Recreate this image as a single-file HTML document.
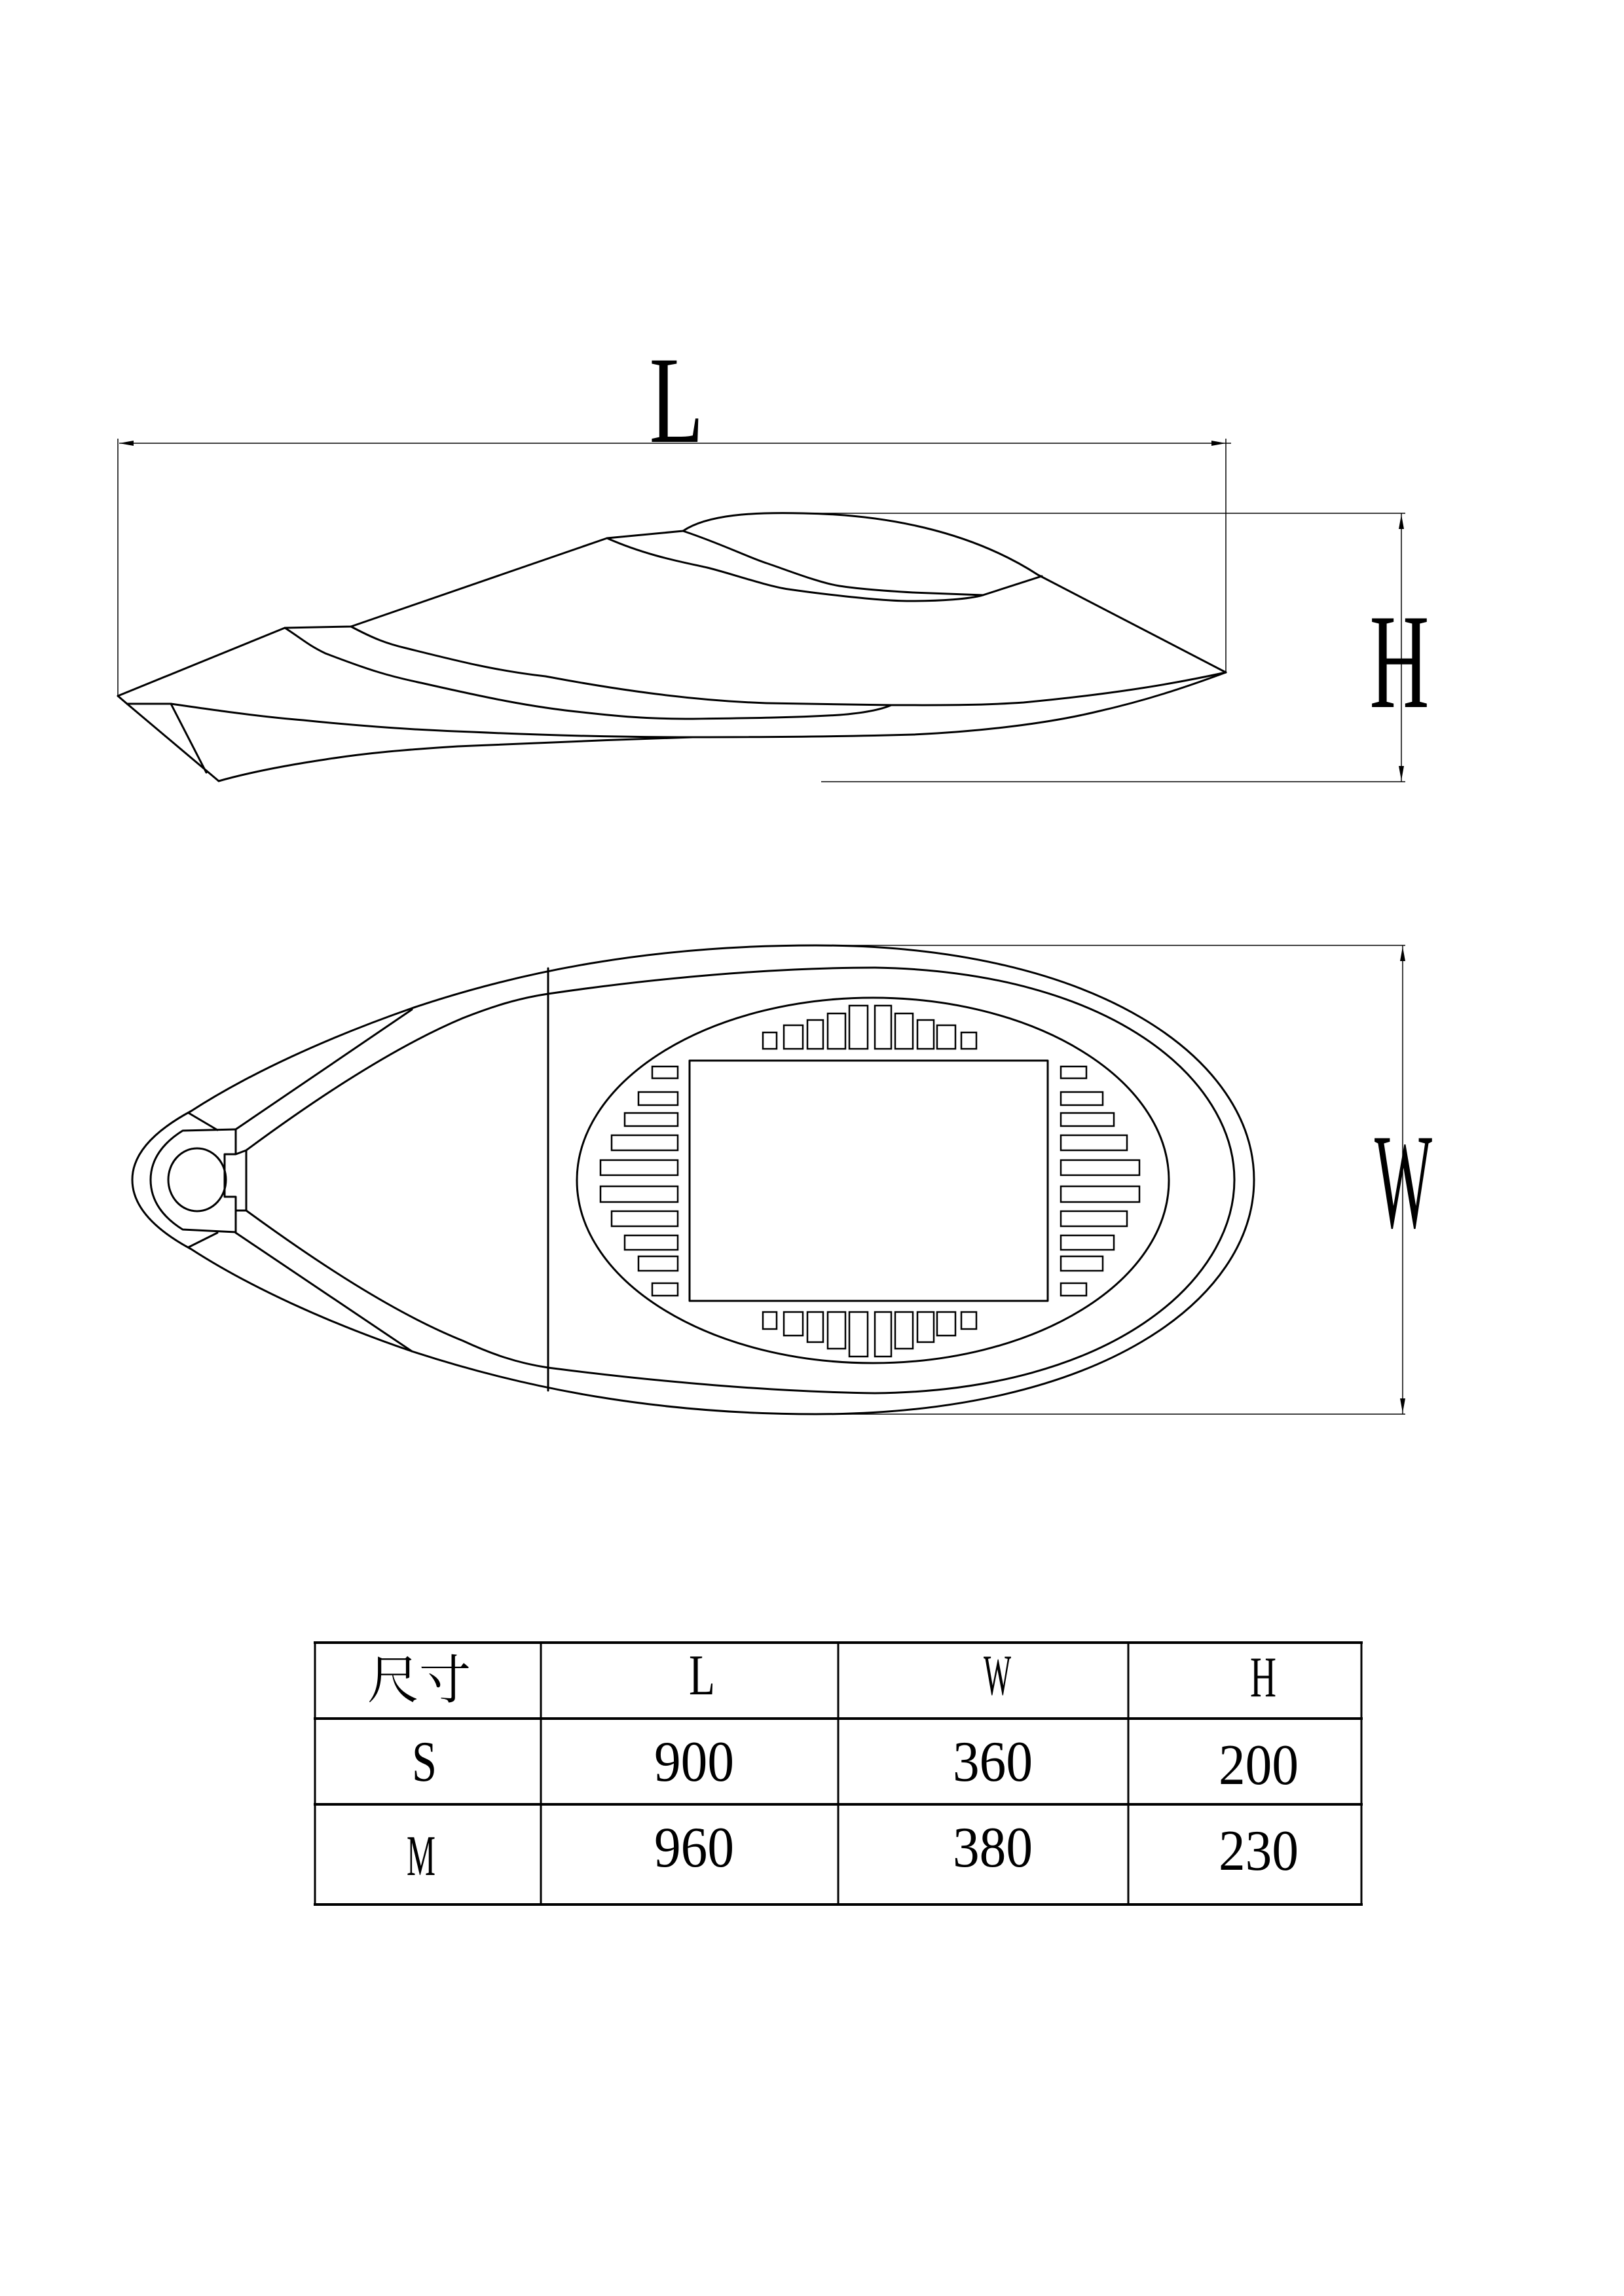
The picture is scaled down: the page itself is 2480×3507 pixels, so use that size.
<!DOCTYPE html>
<html><head><meta charset="utf-8"><style>
html,body{margin:0;padding:0;background:#fff;}
svg{display:block;}
text{font-family:"Liberation Serif","Noto Serif CJK SC",serif;fill:#000;}
</style></head><body>
<svg width="2480" height="3507" viewBox="0 0 2480 3507" xmlns="http://www.w3.org/2000/svg">
<g fill="none" stroke="#000" stroke-width="3" stroke-linejoin="round" stroke-linecap="round">
<!-- side view -->
<path d="M180,1063 L435,959 L536,957 L927,822 L1043,811 C1080,786 1150,782 1226,784 C1350,786 1480,810 1585,878 L1872,1027"/>
<path d="M927,822 C990,850 1050,860 1080,867 S1170,895 1204,900 S1340,918 1389,918 S1480,915 1501,909 L1591,880"/>
<path d="M1043,811 C1100,830 1140,850 1170,860 S1250,890 1282,895 S1360,903 1394,905 L1501,909"/>
<path d="M536,957 C570,975 590,983 620,990 C700,1010 760,1025 833,1033 C950,1055 1060,1070 1170,1074 L1361,1077 C1420,1077 1490,1078 1563,1073 C1700,1060 1790,1045 1872,1027"/>
<path d="M435,959 C460,975 470,985 497,998 C560,1022 590,1032 643,1043 C740,1065 810,1080 890,1088 C960,1096 1000,1098 1058,1098 C1140,1097 1220,1096 1282,1092 C1320,1089 1345,1084 1361,1077"/>
<path d="M194,1075 L261,1075 C330,1085 400,1095 463,1100 C540,1108 630,1115 721,1118 C830,1123 950,1126 1058,1126 C1170,1126 1290,1125 1395,1122 C1500,1117 1600,1105 1675,1087 C1750,1070 1810,1050 1872,1027"/>
<path d="M1058,1126 C940,1130 800,1135 699,1140 C620,1145 560,1150 497,1160 C430,1170 380,1180 334,1193"/>
<path d="M180,1063 L194,1075 L334,1193 M261,1075 L315,1180"/>
<!-- top view outer -->
<path d="M1246,1444 C1680,1444 1915,1620 1915,1802 C1915,1985 1680,2160 1246,2160 C1000,2160 800,2120 629,2064 C500,2020 380,1965 292,1908 C240,1880 202,1845 202,1802 C202,1760 240,1725 292,1697 C380,1640 500,1585 629,1540 C800,1482 1000,1444 1246,1444 Z"/>
<!-- inner rim -->
<path d="M376,1757 C480,1680 600,1600 707,1555 C750,1538 790,1525 837,1518 C1000,1494 1180,1478 1336,1478 C1700,1484 1885,1650 1885,1802 C1885,1955 1700,2124 1336,2128 C1180,2126 1000,2110 837,2089 C790,2082 750,2068 707,2048 C600,2005 480,1925 376,1849"/>
<path d="M360,1725 L629,1542 M360,1883 L629,2064 M288,1700 L332,1726 M288,1905 L332,1883"/>
<path d="M360,1725 L279,1727 C250,1745 230,1770 230,1802 C230,1835 250,1860 279,1878 L360,1882"/>
<path d="M360,1725 L360,1763 L343,1763 L343,1828 L360,1828 L360,1883 M360,1763 L376,1757 L376,1849 L360,1849"/>
<ellipse cx="301" cy="1802" rx="44" ry="48"/>
<path d="M837,1479 L837,2124"/>
<ellipse cx="1333" cy="1803" rx="452" ry="279"/>
<rect x="1053" y="1620" width="547" height="367"/>
</g>
<g fill="none" stroke="#000" stroke-width="2.5">
<rect x="1165" y="1577" width="21" height="25"/><rect x="1197" y="1566" width="29" height="36"/><rect x="1233" y="1558" width="24" height="44"/><rect x="1264" y="1548" width="27" height="54"/><rect x="1297" y="1536" width="28" height="66"/><rect x="1336" y="1536" width="25" height="66"/><rect x="1367" y="1548" width="27" height="54"/><rect x="1401" y="1558" width="25" height="44"/><rect x="1431" y="1566" width="28" height="36"/><rect x="1468" y="1577" width="23" height="25"/>
<rect x="1165" y="2004" width="21" height="26"/><rect x="1197" y="2004" width="29" height="36"/><rect x="1233" y="2004" width="24" height="46"/><rect x="1264" y="2004" width="27" height="56"/><rect x="1297" y="2004" width="28" height="68"/><rect x="1336" y="2004" width="25" height="68"/><rect x="1367" y="2004" width="27" height="56"/><rect x="1401" y="2004" width="25" height="46"/><rect x="1431" y="2004" width="28" height="36"/><rect x="1468" y="2004" width="23" height="26"/>
<rect x="996" y="1629" width="39" height="18"/><rect x="975" y="1668" width="60" height="20"/><rect x="954" y="1700" width="81" height="20"/><rect x="934" y="1734" width="101" height="23"/><rect x="917" y="1772" width="118" height="23"/><rect x="917" y="1812" width="118" height="24"/><rect x="934" y="1850" width="101" height="23"/><rect x="954" y="1887" width="81" height="22"/><rect x="975" y="1919" width="60" height="22"/><rect x="996" y="1960" width="39" height="19"/>
<rect x="1620" y="1629" width="39" height="18"/><rect x="1620" y="1668" width="64" height="20"/><rect x="1620" y="1700" width="81" height="20"/><rect x="1620" y="1734" width="101" height="23"/><rect x="1620" y="1772" width="120" height="23"/><rect x="1620" y="1812" width="120" height="24"/><rect x="1620" y="1850" width="101" height="23"/><rect x="1620" y="1887" width="81" height="22"/><rect x="1620" y="1919" width="64" height="22"/><rect x="1620" y="1960" width="39" height="19"/>
</g>
<g fill="none" stroke="#000" stroke-width="1.5">
<path d="M182,677 L1880,677 M180,670 L180,1063 M1872,670 L1872,1027"/>
<path d="M1226,784 L2146,784 M1254,1194 L2146,1194 M2140,784 L2140,1194"/>
<path d="M1246,1444 L2146,1444 M1246,2160 L2146,2160 M2142,1444 L2142,2160"/>
</g>
<g fill="#000">
<path d="M182,677 L204,673 L204,681 Z M1872,677 L1850,673 L1850,681 Z"/>
<path d="M2140,786 L2136,808 L2144,808 Z M2140,1192 L2136,1170 L2144,1170 Z"/>
<path d="M2142,1446 L2138,1468 L2146,1468 Z M2142,2158 L2138,2136 L2146,2136 Z"/>
</g>
<text x="1033" y="675" font-size="190" text-anchor="middle" textLength="83" lengthAdjust="spacingAndGlyphs">L</text>
<text x="2137" y="1080" font-size="207" text-anchor="middle" textLength="91" lengthAdjust="spacingAndGlyphs">H</text>
<text x="2143" y="1874" font-size="207" text-anchor="middle" textLength="88" lengthAdjust="spacingAndGlyphs">W</text>
<g fill="none" stroke="#000">
<path stroke-width="4" d="M479,2509 L2081,2509 M479,2625 L2081,2625 M479,2756 L2081,2756 M479,2909 L2081,2909"/>
<path stroke-width="3" d="M481,2509 L481,2909 M826,2509 L826,2909 M1280,2509 L1280,2909 M1723,2509 L1723,2909 M2079,2509 L2079,2909"/>
</g>
<g font-size="88">
<text x="640" y="2594" font-size="80" text-anchor="middle" textLength="158" lengthAdjust="spacingAndGlyphs" style="font-family:'Noto Serif CJK SC','Noto Sans CJK SC',serif">尺寸</text>
<text x="1072" y="2588" text-anchor="middle" textLength="40" lengthAdjust="spacingAndGlyphs">L</text>
<text x="1523" y="2588" text-anchor="middle" textLength="42" lengthAdjust="spacingAndGlyphs">W</text>
<text x="1929" y="2591" text-anchor="middle" textLength="40" lengthAdjust="spacingAndGlyphs">H</text>
<text x="648" y="2720" text-anchor="middle" textLength="38" lengthAdjust="spacingAndGlyphs">S</text>
<text x="1060" y="2720" text-anchor="middle" textLength="122" lengthAdjust="spacingAndGlyphs">900</text>
<text x="1516" y="2720" text-anchor="middle" textLength="122" lengthAdjust="spacingAndGlyphs">360</text>
<text x="1922" y="2725" text-anchor="middle" textLength="122" lengthAdjust="spacingAndGlyphs">200</text>
<text x="643" y="2864" text-anchor="middle" textLength="44" lengthAdjust="spacingAndGlyphs">M</text>
<text x="1060" y="2851" text-anchor="middle" textLength="122" lengthAdjust="spacingAndGlyphs">960</text>
<text x="1516" y="2851" text-anchor="middle" textLength="122" lengthAdjust="spacingAndGlyphs">380</text>
<text x="1922" y="2856" text-anchor="middle" textLength="122" lengthAdjust="spacingAndGlyphs">230</text>
</g>
</svg>
</body></html>
